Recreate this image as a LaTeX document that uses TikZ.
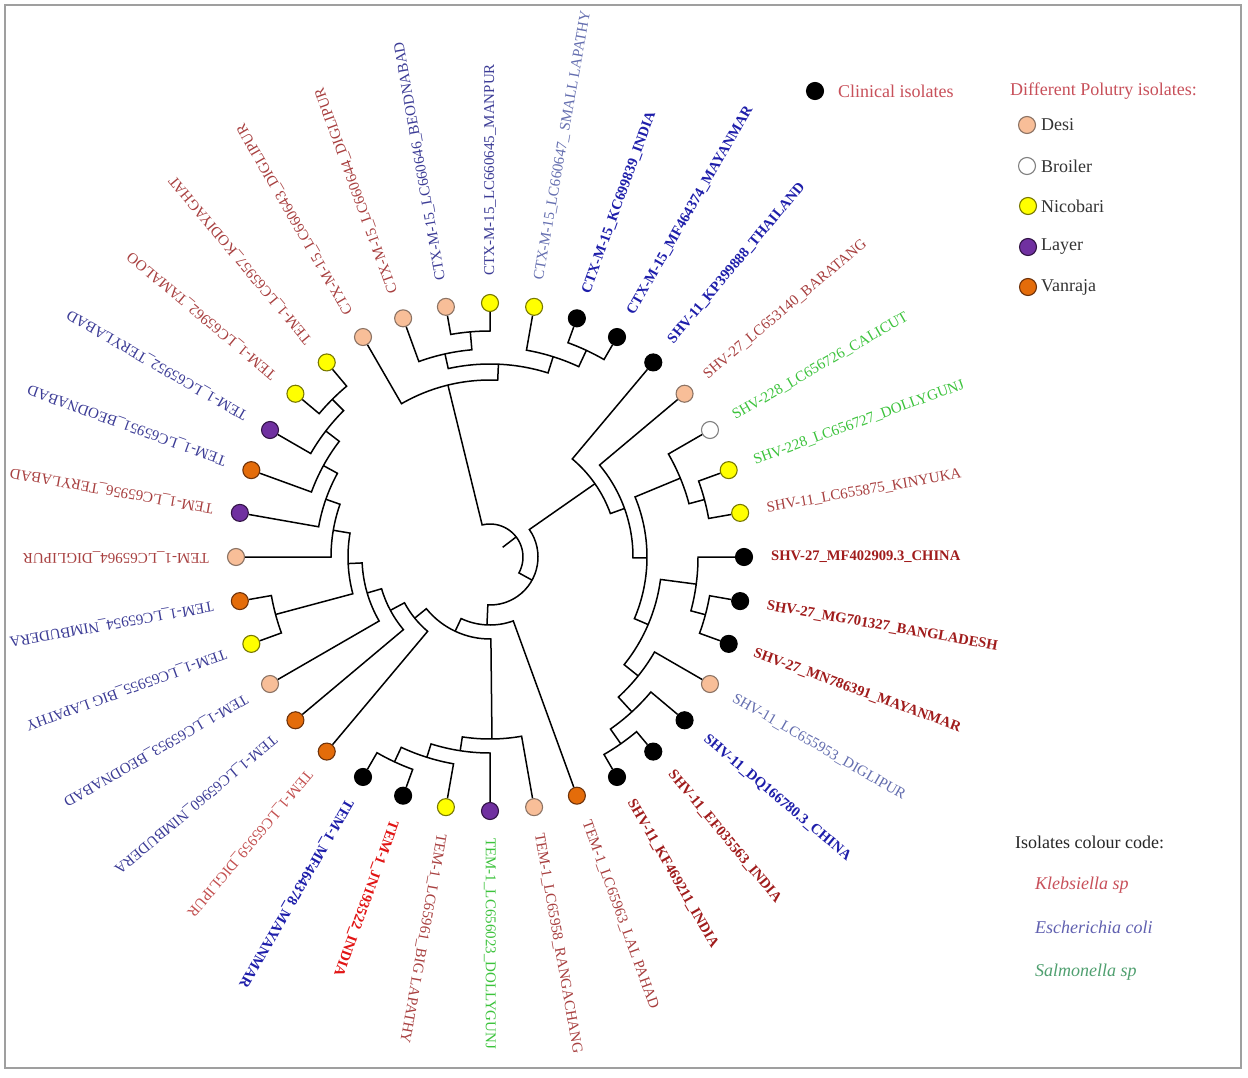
\documentclass[tikz,border=0pt]{standalone}
\usepackage{fontspec}
\setmainfont{Liberation Serif}
\definecolor{desiF}{RGB}{248,190,152}
\definecolor{desiD}{RGB}{140,115,100}
\definecolor{nicF}{RGB}{255,255,0}
\definecolor{nicD}{RGB}{120,120,0}
\definecolor{layF}{RGB}{112,48,160}
\definecolor{layD}{RGB}{50,20,70}
\definecolor{vanF}{RGB}{228,108,10}
\definecolor{vanD}{RGB}{110,50,10}
\definecolor{broD}{RGB}{128,128,128}
\definecolor{kleb}{RGB}{168,64,64}
\definecolor{klebB}{RGB}{160,28,28}
\definecolor{redB}{RGB}{225,20,20}
\definecolor{ecol}{RGB}{60,60,150}
\definecolor{ecolL}{RGB}{100,110,175}
\definecolor{ecolB}{RGB}{30,30,170}
\definecolor{salm}{RGB}{60,195,60}
\definecolor{pinkr}{RGB}{195,80,80}
\definecolor{legred}{RGB}{200,80,90}
\definecolor{legblue}{RGB}{96,96,176}
\definecolor{leggreen}{RGB}{80,160,112}
\tikzset{
  branch/.style={line width=1.5pt, black},
  mk/.style={circle, minimum size=17pt, inner sep=0pt, line width=1.1pt},
  desi/.style={mk, fill=desiF, draw=desiD},
  nico/.style={mk, fill=nicF, draw=nicD},
  layer/.style={mk, fill=layF, draw=layD},
  vanr/.style={mk, fill=vanF, draw=vanD},
  broi/.style={mk, fill=white, draw=broD},
  clin/.style={mk, fill=black, draw=black},
  lab/.style={font=\fontsize{15}{15}\selectfont, inner sep=0pt, anchor=west},
  labb/.style={font=\fontsize{14.6}{15}\selectfont\bfseries, inner sep=0pt, anchor=west},
  legt/.style={font=\fontsize{18}{18}\selectfont, inner sep=0pt, anchor=west},
}
\newcommand\leaf[5]{%
  \node[#3] (L#1) at (#2:254) {};
  \node[#4, rotate=#2] (t#1) at (#2:281) {#5};}
\newcommand\tj[5]{%
  \draw[branch] (#1) -- (#2:#5) arc[start angle=#2, end angle=#4, radius=#5pt] -- (#3);}
\begin{document}
\begin{tikzpicture}[x=1pt,y=1pt]
\useasboundingbox (0,0) rectangle (1248,-1078);
\fill[white] (0,0) rectangle (1248,-1078);
\draw[gray!75, line width=2pt] (5,-5) rectangle (1241,-1068);

\begin{scope}[shift={(490,-557)}]
% leaves
\leaf{1}{180}{desi}{lab, text=kleb}{TEM-1\_LC65964\_DIGLIPUR}
\leaf{2}{170}{layer}{lab, text=kleb}{TEM-1\_LC65956\_TERYLABAD}
\leaf{3}{160}{vanr}{lab, text=ecol}{TEM-1\_LC65951\_BEODNABAD}
\leaf{4}{150}{layer}{lab, text=ecol}{TEM-1\_LC65952\_TERYLABAD}
\leaf{5}{140}{nico}{lab, text=kleb}{TEM-1\_LC65962\_TAMALOO}
\leaf{6}{130}{nico}{lab, text=kleb}{TEM-1\_LC65957\_KODIYAGHAT}
\leaf{7}{120}{desi}{lab, text=kleb}{CTX-M-15\_LC660643\_DIGLIPUR}
\leaf{8}{110}{desi}{lab, text=kleb}{CTX-M-15\_LC660644\_DIGLIPUR}
\leaf{9}{100}{desi}{lab, text=ecol}{CTX-M-15\_LC660646\_BEODNABAD}
\leaf{10}{90}{nico}{lab, text=ecol}{CTX-M-15\_LC660645\_MANPUR}
\leaf{11}{80}{nico}{lab, text=ecolL}{CTX-M-15\_LC660647\_ SMALL LAPATHY}
\leaf{12}{70}{clin}{labb, text=ecolB}{CTX-M-15\_KC699839\_INDIA}
\leaf{13}{60}{clin}{labb, text=ecolB}{CTX-M-15\_MF464374\_MAYANMAR}
\leaf{14}{50}{clin}{labb, text=ecolB}{SHV-11\_KP399888\_THAILAND}
\leaf{15}{40}{desi}{lab, text=kleb}{SHV-27\_LC653140\_BARATANG}
\leaf{16}{30}{broi}{lab, text=salm}{SHV-228\_LC656726\_CALICUT}
\leaf{17}{20}{nico}{lab, text=salm}{SHV-228\_LC656727\_DOLLYGUNJ}
\leaf{18}{10}{nico}{lab, text=kleb}{SHV-11\_LC655875\_KINYUKA}
\leaf{19}{0}{clin}{labb, text=klebB}{SHV-27\_MF402909.3\_CHINA}
\leaf{20}{-10}{clin}{labb, text=klebB}{SHV-27\_MG701327\_BANGLADESH}
\leaf{21}{-20}{clin}{labb, text=klebB}{SHV-27\_MN786391\_MAYANMAR}
\leaf{22}{-30}{desi}{lab, text=ecolL}{SHV-11\_LC655953\_DIGLIPUR}
\leaf{23}{-40}{clin}{labb, text=ecolB}{SHV-11\_DQ166780.3\_CHINA}
\leaf{24}{-50}{clin}{labb, text=klebB}{SHV-11\_EF035563\_INDIA}
\leaf{25}{-60}{clin}{labb, text=klebB}{SHV-11\_KF469211\_INDIA}
\leaf{26}{-70}{vanr}{lab, text=kleb}{TEM-1\_LC65963\_LAL PAHAD}
\leaf{27}{-80}{desi}{lab, text=kleb}{TEM-1\_LC65958\_RANGACHANG}
\leaf{28}{-90}{layer}{lab, text=salm}{TEM-1\_LC656023\_DOLLYGUNJ}
\leaf{29}{-100}{nico}{lab, text=kleb}{TEM-1\_LC65961\_BIG LAPATHY}
\leaf{30}{-110}{clin}{labb, text=redB}{TEM-1\_JN193522\_INDIA}
\leaf{31}{-120}{clin}{labb, text=ecolB}{TEM-1\_MF464378\_MAYANMAR}
\leaf{32}{230}{vanr}{lab, text=pinkr}{TEM-1\_LC65959\_DIGLIPUR}
\leaf{33}{220}{vanr}{lab, text=ecol}{TEM-1\_LC65960\_NIMBUDERA}
\leaf{34}{210}{desi}{lab, text=ecol}{TEM-1\_LC65953\_BEODNABAD}
\leaf{35}{200}{nico}{lab, text=ecol}{TEM-1\_LC65955\_BIG LAPATHY}
\leaf{36}{190}{vanr}{lab, text=ecol}{TEM-1\_LC65954\_NIMBUDERA}

% internal node positions
\coordinate (T3) at (95:226);
\coordinate (T2) at (102.5:208);
\coordinate (T5) at (65:228);
\coordinate (T4) at (72.5:210);
\coordinate (T1) at (87.5:193);
\coordinate (T0) at (103.75:177);
\coordinate (N17) at (15:222);
\coordinate (N16) at (22.5:206);
\coordinate (N20) at (-15:223);
\coordinate (N19) at (-7.5:208);
\coordinate (N24) at (-55:228);
\coordinate (N23) at (-47.5:210);
\coordinate (N22) at (-38.75:190);
\coordinate (Y1) at (-23.125:172);
\coordinate (Y2) at (-0.3125:157);
\coordinate (Y3) at (19.844:143);
\coordinate (Y4) at (34.922:128);
\coordinate (BT3) at (-115:226);
\coordinate (BT2) at (-107.5:210);
\coordinate (BT1) at (-98.75:196);
\coordinate (BOT) at (-89.375:182);
\coordinate (P56) at (135:223);
\coordinate (N4) at (142.5:207);
\coordinate (N3) at (151.25:190);
\coordinate (N2) at (160.625:174);
\coordinate (N1) at (170.3125:159);
\coordinate (P) at (195:222);
\coordinate (Q2) at (182.656:142);
\coordinate (Q1) at (196.328:128);
\coordinate (Q0) at (208.164:113);
\coordinate (LF) at (219.082:97);
\coordinate (B) at (-115.146:82);
\coordinate (A) at (-92.573:68);
\coordinate (Z) at (-28.826:48);
\coordinate (R) at (37.462:33);
\coordinate (R0) at (37.462:16);

% joins
\tj{L9}{100}{L10}{90}{226}
\tj{L8}{110}{T3}{95}{208}
\tj{L12}{70}{L13}{60}{228}
\tj{L11}{80}{T5}{65}{210}
\tj{T2}{102.5}{T4}{72.5}{193}
\tj{L7}{120}{T1}{87.5}{177}
\tj{L17}{20}{L18}{10}{222}
\tj{L16}{30}{N17}{15}{206}
\tj{L20}{-10}{L21}{-20}{223}
\tj{L19}{0}{N20}{-15}{208}
\tj{L24}{-50}{L25}{-60}{228}
\tj{L23}{-40}{N24}{-55}{210}
\tj{L22}{-30}{N23}{-47.5}{190}
\tj{N19}{-7.5}{N22}{-38.75}{172}
\tj{N16}{22.5}{Y1}{-23.125}{157}
\tj{L15}{40}{Y2}{-0.3125}{143}
\tj{L14}{50}{Y3}{19.844}{128}
\tj{L31}{-120}{L30}{-110}{226}
\tj{BT3}{-115}{L29}{-100}{210}
\tj{BT2}{-107.5}{L28}{-90}{196}
\tj{BT1}{-98.75}{L27}{-80}{182}
\tj{L5}{140}{L6}{130}{223}
\tj{L4}{150}{P56}{135}{207}
\tj{L3}{160}{N4}{142.5}{190}
\tj{L2}{170}{N3}{151.25}{174}
\tj{L1}{180}{N2}{160.625}{159}
\tj{L36}{190}{L35}{200}{222}
\tj{N1}{170.3125}{P}{195}{142}
\tj{Q2}{182.656}{L34}{210}{128}
\tj{Q1}{196.328}{L33}{220}{113}
\tj{Q0}{208.164}{L32}{230}{97}
\tj{LF}{-140.918}{BOT}{-89.375}{82}
\tj{B}{-115.146}{L26}{-70}{68}
\tj{Y4}{34.922}{A}{-92.573}{48}
\tj{T0}{103.75}{Z}{-28.826}{33}
\draw[branch] (R) -- (R0);
\end{scope}

% legend
\node[clin] (kc) at (815,-91) {};
\node[legt, text=legred] (kct) at (838,-91) {Clinical isolates};
\node[legt, text=legred] (kph) at (1010,-91) {Different Polutry isolates:};
\node[desi] (k1) at (1027,-125) {};
\node[legt, text=black!80] (k1t) at (1041,-125) {Desi};
\node[broi] (k2) at (1027,-166) {};
\node[legt, text=black!80] (k2t) at (1041,-166) {Broiler};
\node[nico] (k3) at (1028,-206) {};
\node[legt, text=black!80] (k3t) at (1041,-206) {Nicobari};
\node[layer] (k4) at (1028,-247) {};
\node[legt, text=black!80] (k4t) at (1041,-247) {Layer};
\node[vanr] (k5) at (1028,-287) {};
\node[legt, text=black!80] (k5t) at (1041,-287) {Vanraja};

\node[legt, text=black!85] (cc) at (1015,-842) {Isolates colour code:};
\node[legt, text=legred, font=\fontsize{18}{18}\selectfont\itshape] (c1) at (1035,-885) {Klebsiella sp};
\node[legt, text=legblue, font=\fontsize{18}{18}\selectfont\itshape] (c2) at (1035,-927) {Escherichia coli};
\node[legt, text=leggreen, font=\fontsize{18}{18}\selectfont\itshape] (c3) at (1035,-972) {Salmonella sp};
\end{tikzpicture}
\end{document}
